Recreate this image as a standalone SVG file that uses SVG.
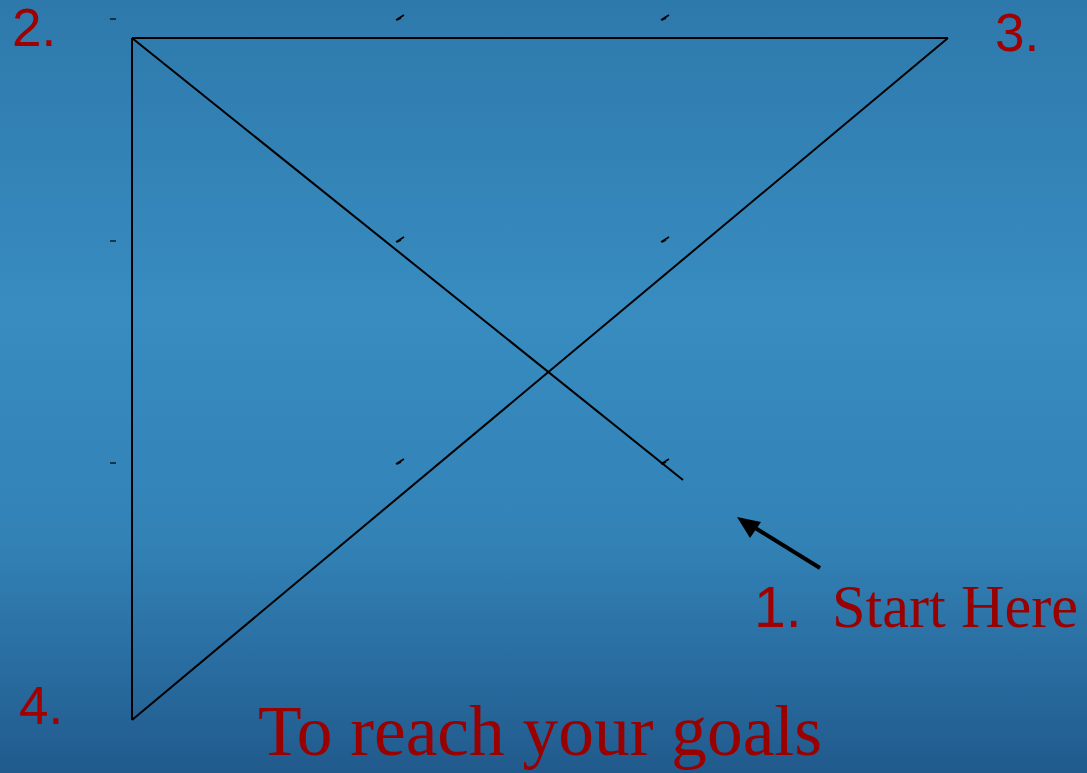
<svg xmlns="http://www.w3.org/2000/svg" width="1087" height="773" viewBox="0 0 1087 773">
<defs>
<linearGradient id="bg" x1="0" y1="0" x2="0" y2="1">
<stop offset="0" stop-color="#2e79ac"/>
<stop offset="0.4" stop-color="#388cc0"/>
<stop offset="0.7" stop-color="#3282b6"/>
<stop offset="1" stop-color="#215a8d"/>
</linearGradient>
<path id="tick" d="M-4,2 L4,-3 M-3,2 L1,0" stroke="#000" stroke-width="1.5" fill="none"/>
</defs>
<style>
.ln{stroke:#000;stroke-width:2;fill:none}
.sans{font-family:"Liberation Sans",Arial,sans-serif;fill:#a00000}
.serif{font-family:"Liberation Serif","Times New Roman",serif;fill:#990000}
</style>
<rect width="1087" height="773" fill="url(#bg)"/>
<g id="ticks">
<path d="M110,19 L116,19" stroke="#000" stroke-width="1.2"/>
<use href="#tick" x="400" y="18"/>
<use href="#tick" x="665" y="18"/>
<path d="M110,241 L116,241" stroke="#000" stroke-width="1.2"/>
<use href="#tick" x="400" y="240"/>
<use href="#tick" x="665" y="240"/>
<path d="M110,463 L116,463" stroke="#000" stroke-width="1.2"/>
<use href="#tick" x="400" y="462"/>
<use href="#tick" x="665" y="462"/>
</g>
<g id="connectors">
<line class="ln" x1="132" y1="38" x2="948" y2="38"/>
<line class="ln" x1="132" y1="38" x2="132" y2="720"/>
<line class="ln" x1="132" y1="720" x2="948" y2="38"/>
<line class="ln" x1="132" y1="38" x2="683" y2="480"/>
<line x1="820" y1="568" x2="752" y2="526" stroke="#000" stroke-width="4"/>
<path d="M737,517 L761,522 L750,538 Z" fill="#000"/>
</g>
<g id="label-2"><text class="sans" x="12" y="46" font-size="53">2.</text></g>
<g id="label-3"><text class="sans" x="995" y="51" font-size="53">3.</text></g>
<g id="label-4"><text class="sans" x="19" y="724" font-size="53">4.</text></g>
<g id="label-1"><text class="sans" x="754" y="627" font-size="57">1.</text><text class="serif" x="832" y="627" font-size="62" textLength="246" lengthAdjust="spacingAndGlyphs">Start Here</text></g>
<g id="title"><text class="serif" x="258" y="755" font-size="72" textLength="564" lengthAdjust="spacingAndGlyphs">To reach your goals</text></g>
</svg>
